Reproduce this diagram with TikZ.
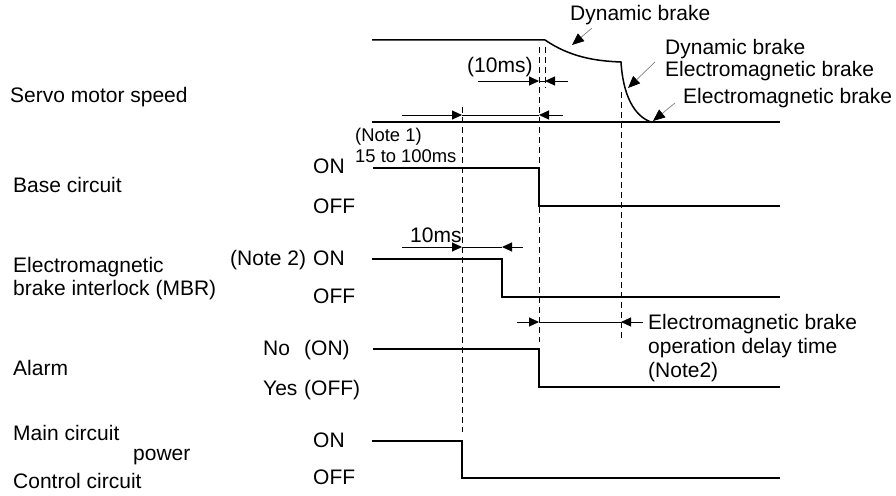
\documentclass[tikz,border=0pt]{standalone}
\usepackage{fontspec}
\setmainfont{Liberation Sans}
\usetikzlibrary{arrows.meta}
\tikzset{
  lab/.style={font=\fontsize{21}{24}\selectfont, inner sep=0pt, anchor=base west},
  notelab/.style={font=\fontsize{18.4}{22}\selectfont, inner sep=0pt, anchor=base west},
  sig/.style={line width=1.5pt},
  axisline/.style={line width=2.4pt},
  dsh/.style={line width=1pt, dash pattern=on 6pt off 4pt},
  dim/.style={line width=1pt},
  tip/.style={-{Triangle[length=10pt,width=9pt]}},
  ptr/.style={draw=gray, line width=0.7pt, -{Triangle[length=12pt,width=10pt,color=black,fill=black]}}
}
\begin{document}
\begin{tikzpicture}[x=1pt,y=-1pt]
\useasboundingbox (0,0) rectangle (896,495);

% ---------- left labels ----------
\node[lab] (servo) at (10,102) {Servo motor speed};
\node[lab] (base) at (13,192) {Base circuit};
\node[lab] (em1) at (13,272) {Electromagnetic};
\node[lab] (em2) at (13,295) {brake interlock (MBR)};
\node[lab] (alarm) at (13,375) {Alarm};
\node[lab] (main) at (13,440) {Main circuit};
\node[lab] (power) at (133,460) {power};
\node[lab] (ctrl) at (13,488) {Control circuit};

% ---------- level labels ----------
\node[lab] (bon) at (313,173) {ON};
\node[lab] (boff) at (313,213) {OFF};
\node[lab] (note2) at (230,265) {(Note 2)};
\node[lab] (mon) at (313,265) {ON};
\node[lab] (moff) at (313,303) {OFF};
\node[lab] (ano) at (263,355) {No};
\node[lab] (aon) at (304,355) {(ON)};
\node[lab] (ayes) at (263,395) {Yes};
\node[lab] (aoff) at (304,395) {(OFF)};
\node[lab] (pon) at (313,447) {ON};
\node[lab] (poff) at (313,484) {OFF};

% ---------- notes ----------
\node[notelab] (note1) at (355,141) {(Note 1)};
\node[notelab] (t15) at (355,162) {15 to 100ms};
\node[lab] (t10a) at (467,72) {(10ms)};
\node[lab] (t10b) at (410,242) {10ms};

\node[lab] (db1) at (570,21) {Dynamic brake};
\node[lab] (db2) at (665,55) {Dynamic brake};
\node[lab] (db3) at (665,77) {Electromagnetic brake};
\node[lab] (db4) at (683,103) {Electromagnetic brake};

\node[lab] (dl1) at (648,329) {Electromagnetic brake};
\node[lab] (dl2) at (648,353) {operation delay time};
\node[lab] (dl3) at (648,377) {(Note2)};

% ---------- dashed guides ----------
\draw[dsh] (462,107) -- (462,432);
\draw[dsh] (539,47) -- (539,342);
\draw[dsh] (545,47) -- (545,88);
\draw[dsh] (621,92) -- (621,342);

% ---------- servo motor speed ----------
\draw[sig] (372,40) -- (545,40)
  .. controls (570,57) and (595,61) .. (621,62)
  .. controls (623,95) and (634,116) .. (651,122);
\draw[axisline] (372,122) -- (780,122);

% ---------- base circuit ----------
\draw[sig] (373,168) -- (539,168) -- (539,206) -- (780,206);
% ---------- MBR ----------
\draw[sig] (372,259) -- (502,259) -- (502,297) -- (780,297);
% ---------- alarm ----------
\draw[sig] (373,349) -- (539,349) -- (539,387) -- (780,387);
% ---------- main circuit ----------
\draw[sig] (372,441) -- (462,441) -- (462,478) -- (780,478);

% ---------- dimension arrows ----------
\draw[dim,tip] (478,81) -- (539,81);
\draw[dim] (539,81) -- (545,81);
\draw[dim,tip] (568,81) -- (545,81);

\draw[dim,tip] (402,115) -- (462,115);
\draw[dim] (462,115) -- (539,115);
\draw[dim,tip] (563,115) -- (539,115);

\draw[dim,tip] (402,247) -- (462,247);
\draw[dim] (462,247) -- (502,247);
\draw[dim,tip] (523,247) -- (502,247);

\draw[dim,tip] (517,322) -- (539,322);
\draw[line width=0.7pt] (539,322) -- (621,322);
\draw[dim,tip] (643,322) -- (621,322);

% ---------- pointers ----------
\draw[ptr] (592,28) -- (572,45);
\draw[ptr] (655,62) -- (628,88);
\draw[ptr] (675,103) -- (653,121);
\end{tikzpicture}
\end{document}
